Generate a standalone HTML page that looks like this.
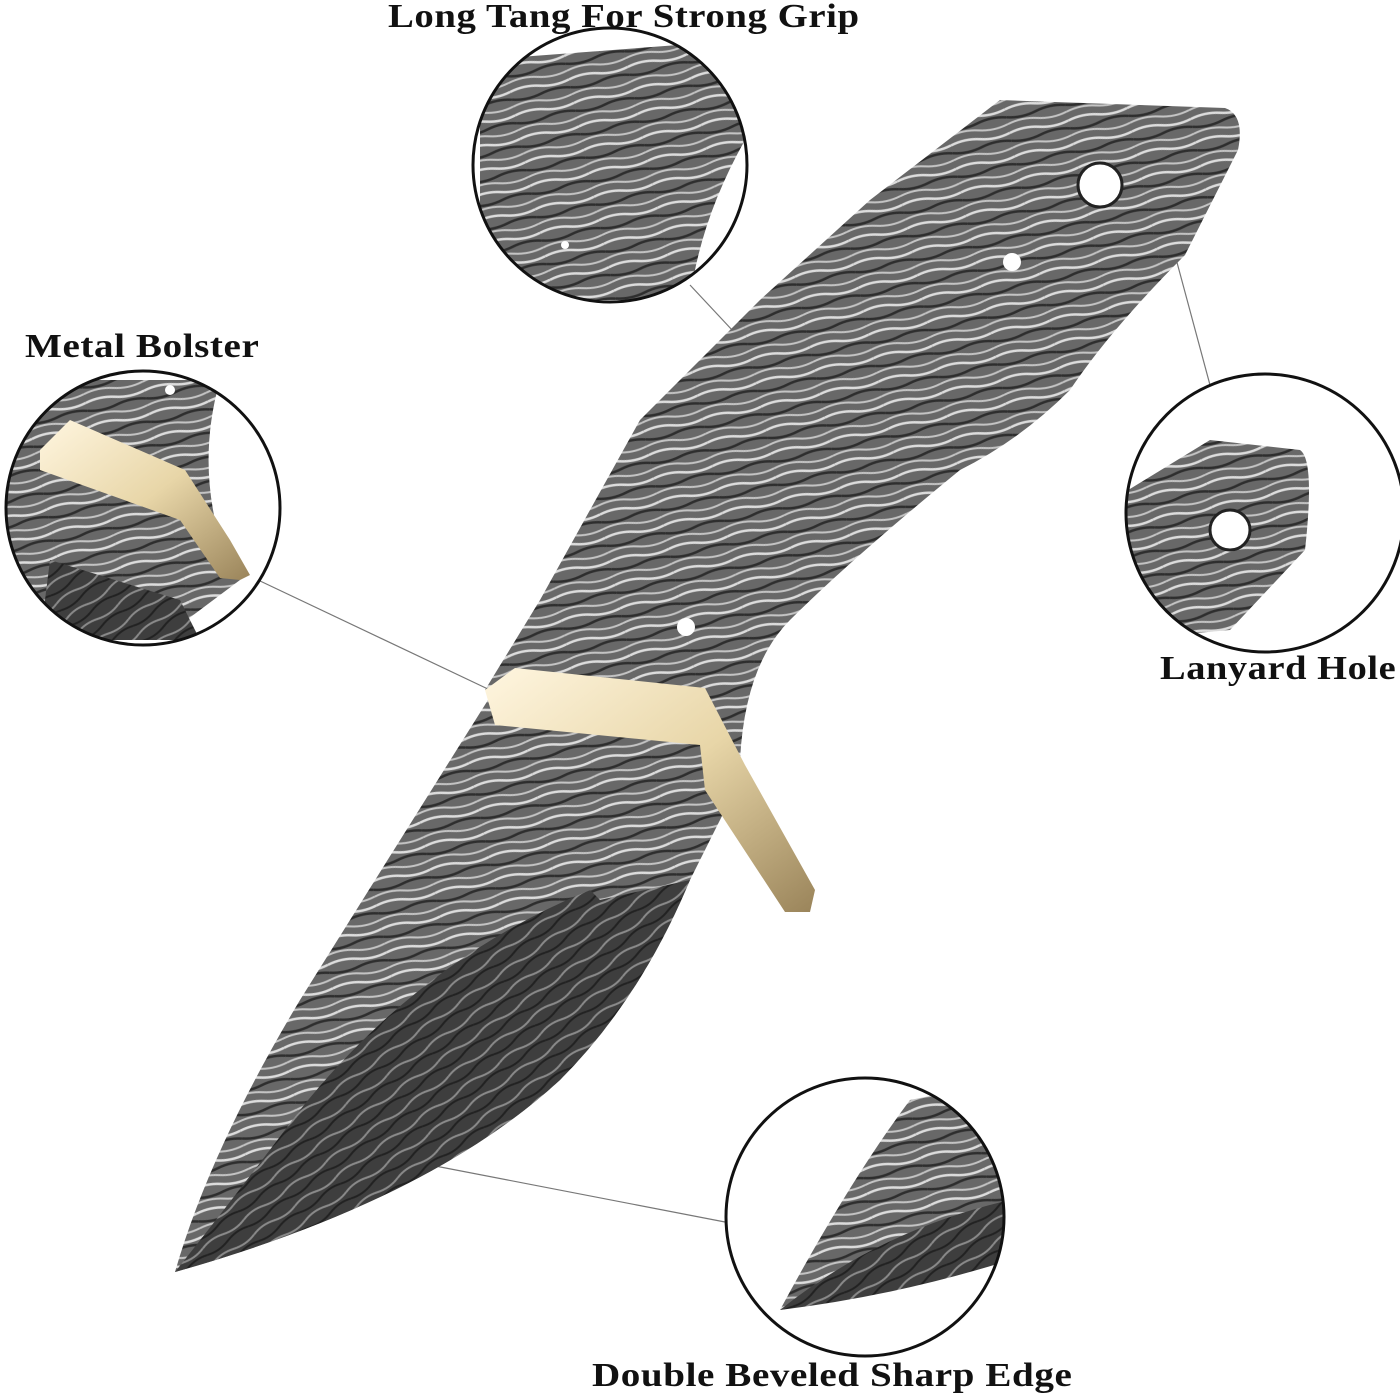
<!DOCTYPE html>
<html><head><meta charset="utf-8"><style>
html,body{margin:0;padding:0;background:#fff;width:1400px;height:1400px;overflow:hidden}
.lbl{position:absolute;font-family:"Liberation Serif",serif;font-weight:bold;font-size:34px;color:#111;white-space:nowrap;letter-spacing:0.5px;transform-origin:0 0}
</style></head><body>
<svg width="1400" height="1400" viewBox="0 0 1400 1400" style="position:absolute;left:0;top:0">
<defs>
<pattern id="dam" width="60" height="24" patternUnits="userSpaceOnUse" patternTransform="rotate(-12)">
<rect width="60" height="24" fill="#686868"/>
<path d="M0 4 Q15 0 30 4 T60 4" stroke="#dcdcdc" stroke-width="2.5" fill="none"/>
<path d="M0 12 Q15 16 30 12 T60 12" stroke="#2e2e2e" stroke-width="2.5" fill="none"/>
<path d="M0 19 Q15 15 30 19 T60 19" stroke="#c4c4c4" stroke-width="2" fill="none"/>
</pattern>
<pattern id="dam2" width="50" height="18" patternUnits="userSpaceOnUse" patternTransform="rotate(-35)">
<rect width="50" height="18" fill="#3e3e3e"/>
<path d="M0 5 Q12 1 25 5 T50 5" stroke="#8a8a8a" stroke-width="2" fill="none"/>
<path d="M0 13 Q12 17 25 13 T50 13" stroke="#222" stroke-width="2" fill="none"/>
</pattern>
<linearGradient id="brass" x1="0" y1="0" x2="1" y2="1">
<stop offset="0" stop-color="#fff6e0"/><stop offset="0.5" stop-color="#e8d6a8"/><stop offset="1" stop-color="#9a845a"/>
</linearGradient>
<clipPath id="c1"><circle cx="610" cy="165" r="136"/></clipPath>
<clipPath id="c2"><circle cx="143" cy="508" r="136"/></clipPath>
<clipPath id="c3"><circle cx="1265" cy="513" r="138"/></clipPath>
<clipPath id="c4"><circle cx="865" cy="1217" r="138"/></clipPath>
</defs>
<g stroke="#777" stroke-width="1.2">
<line x1="690" y1="285" x2="762" y2="362"/>
<line x1="258" y1="580" x2="490" y2="690"/>
<line x1="1175" y1="255" x2="1210" y2="385"/>
<line x1="430" y1="1165" x2="725" y2="1222"/>
</g>
<path d="M485 690 L540 600 L640 420 L760 300 L870 200 L1000 100 L1225 108 Q1245 115 1238 150 L1185 255 Q1110 330 1070 390 Q1020 440 960 470 Q850 560 790 620 Q745 665 740 760 L700 700 Z" fill="url(#dam)"/>
<circle cx="1100" cy="185" r="22" fill="#fff" stroke="#222" stroke-width="3"/>
<circle cx="1012" cy="262" r="9" fill="#fff"/>
<circle cx="686" cy="627" r="9" fill="#fff"/>
<path d="M488 700 L700 720 L740 780 L690 880 Q640 1000 560 1080 Q430 1200 175 1272 Q210 1150 300 1000 Q400 840 488 700 Z" fill="url(#dam)"/>
<path d="M690 880 L600 900 L590 890 Q420 960 300 1110 Q240 1190 175 1272 Q430 1200 560 1080 Q640 1000 690 880 Z" fill="url(#dam2)"/>
<path d="M485 690 L515 668 L705 688 L745 765 L815 890 L810 912 L785 912 L705 790 L700 745 L495 725 Z" fill="url(#brass)"/>
<g clip-path="url(#c1)">
<path d="M480 60 L745 40 L745 140 Q700 220 690 300 L480 300 Z" fill="url(#dam)"/>
<circle cx="565" cy="245" r="4" fill="#fff"/>
</g>
<circle cx="610" cy="165" r="137" fill="none" stroke="#111" stroke-width="3"/>
<g clip-path="url(#c2)">
<path d="M0 380 L220 380 Q200 450 215 520 L240 580 L160 640 L0 640 Z" fill="url(#dam)"/>
<path d="M50 560 L180 600 L200 640 L40 640 Z" fill="url(#dam2)"/>
<path d="M40 450 L70 420 L185 470 L230 540 L250 575 L240 580 L220 578 L180 520 L40 470 Z" fill="url(#brass)"/>
<circle cx="170" cy="390" r="5" fill="#fff"/>
</g>
<circle cx="143" cy="508" r="137" fill="none" stroke="#111" stroke-width="3"/>
<g clip-path="url(#c3)">
<path d="M1120 495 L1210 440 L1300 450 Q1315 460 1305 550 L1230 630 L1120 640 Z" fill="url(#dam)"/>
<circle cx="1230" cy="530" r="20" fill="#fff" stroke="#222" stroke-width="3"/>
</g>
<circle cx="1265" cy="513" r="139" fill="none" stroke="#111" stroke-width="3"/>
<g clip-path="url(#c4)">
<path d="M780 1310 Q850 1180 910 1100 L1010 1080 L1010 1240 Q900 1290 780 1310 Z" fill="url(#dam)"/>
<path d="M780 1310 Q880 1230 1010 1200 L1010 1260 Q900 1295 780 1310 Z" fill="url(#dam2)"/>
</g>
<circle cx="865" cy="1217" r="139" fill="none" stroke="#111" stroke-width="3"/>
</svg>
<div class="lbl" style="left:388px;top:-2px;transform:scaleX(1.14)">Long Tang For Strong Grip</div>
<div class="lbl" style="left:25px;top:328px;transform:scaleX(1.15)">Metal Bolster</div>
<div class="lbl" style="left:1160px;top:650px;transform:scaleX(1.13)">Lanyard Hole</div>
<div class="lbl" style="left:592px;top:1357px;transform:scaleX(1.15)">Double Beveled Sharp Edge</div>
</body></html>
